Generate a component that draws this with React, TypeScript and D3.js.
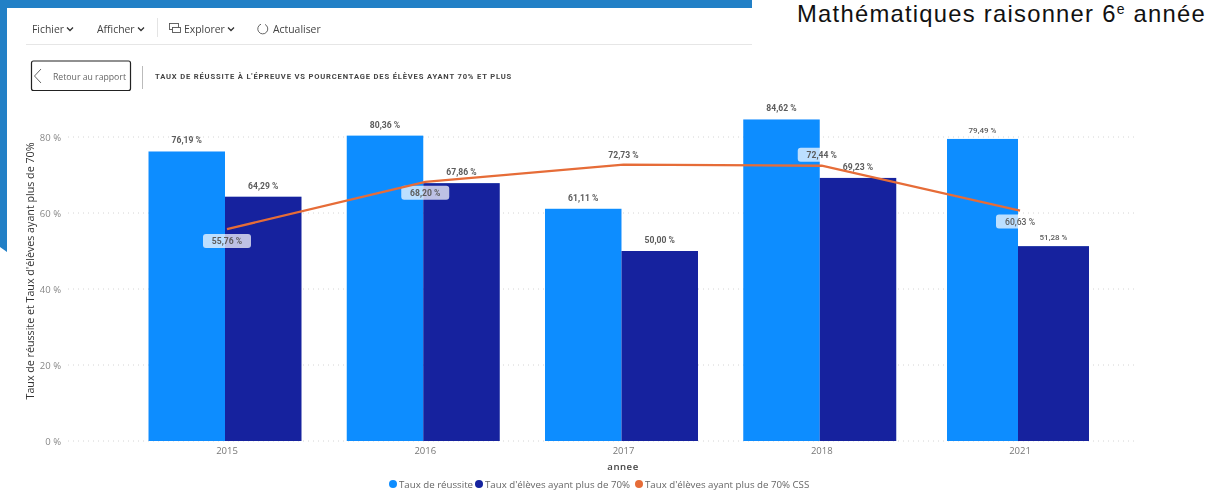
import React from "react";
import * as d3 from "d3";

const years = ["2015", "2016", "2017", "2018", "2021"];
const reussite = [76.19, 80.36, 61.11, 84.62, 79.49];
const plus70 = [64.29, 67.86, 50.0, 69.23, 51.28];
const plus70Css = [55.76, 68.2, 72.73, 72.44, 60.63];
const yTicks = [0, 20, 40, 60, 80];
const legendItems = ["Taux de réussite", "Taux d'élèves ayant plus de 70%", "Taux d'élèves ayant plus de 70% CSS"];

const BLUE = "#118DFF";
const NAVY = "#12239E";
const ORANGE = "#E66C37";
const UI = "'Open Sans', sans-serif";
const DIN = "Roboto, sans-serif";

const x = d3.scalePoint<string>().domain(years).range([225, 1018]);
const y = d3.scaleLinear().domain([0, 80]).range([441, 137]);
const fr = (v: number) => v.toFixed(2).replace(".", ",") + " %";
const halfWidth = (yr: string) => (yr === "2021" ? 71 : 76.5);

const line = d3
  .line<number>()
  .x((_, i) => x(years[i])! + 2)
  .y((d) => y(d));

// label offsets of the line series, relative to each point
const cssLabelDy = [12, 11, -10, -11, 11];
const cssPill = [true, true, false, true, true];

function Chevron({ cx, cy }: { cx: number; cy: number }) {
  return (
    <path d={`M${cx - 3},${cy - 1.5}L${cx},${cy + 1.5}L${cx + 3},${cy - 1.5}`} fill="none" stroke="#333" strokeWidth={1.3} />
  );
}

export default function App() {
  const legendCircles = [393, 479, 639];
  const legendColors = [BLUE, NAVY, ORANGE];
  return (
    <svg width={1219} height={493} style={{ position: "absolute", left: 0, top: 0, display: "block", background: "#fff" }}>
      <defs>
        <filter id="soft" x="0" y="0" width="100%" height="100%" filterUnits="userSpaceOnUse" primitiveUnits="userSpaceOnUse">
          <feGaussianBlur stdDeviation="0.35" />
        </filter>
      </defs>
      <g filter="url(#soft)">
      {/* frame */}
      <path d="M0,0H752V8H7V252L0,247Z" fill="#2380C6" />

      {/* toolbar */}
      <g fontFamily={UI} fontSize={10.4} fill="#444">
        <text x={32} y={33}>Fichier</text>
        <text x={97} y={33}>Afficher</text>
        <text x={184} y={33}>Explorer</text>
        <text x={273} y={33}>Actualiser</text>
      </g>
      <Chevron cx={70} cy={29} />
      <Chevron cx={141} cy={29} />
      <Chevron cx={231} cy={29} />
      <line x1={157.5} x2={157.5} y1={18} y2={37} stroke="#e4e4e4" />
      <rect x={169.5} y={23.5} width={9} height={6} fill="none" stroke="#555" strokeWidth={0.9} />
      <rect x={172.5} y={27.5} width={8} height={5} fill="#fff" stroke="#555" strokeWidth={0.9} />
      <path d="M261,24.2A5,5 0 1 0 265,24.4" fill="none" stroke="#555" strokeWidth={0.9} />
      <line x1={26} x2={752} y1={44.5} y2={44.5} stroke="#e6e6e6" />
      <rect x={31.5} y={61} width={99} height={29.5} rx={2} fill="#fff" stroke="#222" strokeWidth={1.2} />
      <path d="M41,69L34.5,76L41,83" fill="none" stroke="#555" strokeWidth={0.9} />
      <text x={53} y={79.5} fontFamily={UI} fontSize={8.7} fill="#666">Retour au rapport</text>
      <line x1={142.5} x2={142.5} y1={66} y2={89} stroke="#bbb" />
      <text x={155} y={79} fontFamily={DIN} fontWeight={700} fontSize={7.6} letterSpacing={0.83} fill="#444">
        TAUX DE RÉUSSITE À L'ÉPREUVE VS POURCENTAGE DES ÉLÈVES AYANT 70% ET PLUS
      </text>

      {/* grid & y axis */}
      {yTicks.map((t) => (
        <g key={t}>
          <line x1={68} x2={1135} y1={y(t)} y2={y(t)} stroke="#d4d4d4" strokeDasharray="1 4" />
          <text x={61} y={y(t) + 3.5} textAnchor="end" fontFamily={UI} fontSize={9.5} fill="#888">
            {t} %
          </text>
        </g>
      ))}
      <text
        transform="translate(34,271) rotate(-90)"
        textAnchor="middle"
        fontFamily={UI}
        fontSize={10.7}
        fill="#333"
      >
        Taux de réussite et Taux d'élèves ayant plus de 70%
      </text>

      {/* bars */}
      {years.map((yr, i) => {
        const c = x(yr)!;
        const w = halfWidth(yr);
        const small = yr === "2021";
        const gap = small ? 6 : 8;
        return (
          <g key={yr}>
            <rect x={c - w} y={y(reussite[i])} width={w} height={y(0) - y(reussite[i])} fill={BLUE} />
            <rect x={c} y={y(plus70[i])} width={w} height={y(0) - y(plus70[i])} fill={NAVY} />
            <text x={c + 2} y={454} textAnchor="middle" fontFamily={UI} fontSize={9.5} fill="#777">{yr}</text>
            <text
              x={c - w / 2}
              y={y(reussite[i]) - gap}
              textAnchor="middle"
              fontFamily={DIN}
              fontWeight={small ? 500 : 700}
              fontSize={small ? 8 : 8.6}
              fill="#5c5c5c"
            >
              {fr(reussite[i])}
            </text>
            <text
              x={c + w / 2}
              y={y(plus70[i]) - gap}
              textAnchor="middle"
              fontFamily={DIN}
              fontWeight={small ? 500 : 700}
              fontSize={small ? 8 : 8.6}
              fill="#5c5c5c"
            >
              {fr(plus70[i])}
            </text>
          </g>
        );
      })}

      {/* line labels pills */}
      {years.map((yr, i) =>
        cssPill[i] ? (
          <rect
            key={yr}
            x={x(yr)! + 2 - 24}
            y={y(plus70Css[i]) + cssLabelDy[i] - 7}
            width={48}
            height={14}
            rx={3}
            fill="#fff"
            fillOpacity={0.72}
          />
        ) : null
      )}

      {/* line */}
      <path d={line(plus70Css)!} fill="none" stroke={ORANGE} strokeWidth={2.3} />

      {years.map((yr, i) => (
        <text
          key={yr}
          x={x(yr)! + 2}
          y={y(plus70Css[i]) + cssLabelDy[i] + 3}
          textAnchor="middle"
          fontFamily={DIN}
          fontWeight={yr === "2021" ? 500 : 700}
          fontSize={8.6}
          fill="#5c5c5c"
        >
          {fr(plus70Css[i])}
        </text>
      ))}

      {/* x axis title */}
      <text x={623} y={470} textAnchor="middle" fontFamily={UI} fontWeight={600} fontSize={9.6} letterSpacing={0.5} fill="#444">annee</text>

      {/* legend */}
      {legendItems.map((s, i) => (
        <g key={s}>
          <circle cx={legendCircles[i]} cy={484} r={4} fill={legendColors[i]} />
          <text x={legendCircles[i] + 6} y={487.5} fontFamily={UI} fontSize={9.7} fill="#666">{s}</text>
        </g>
      ))}
      </g>

      {/* title */}
      <text x={797} y={22} fontFamily="'Liberation Sans', sans-serif" fontSize={23.8} letterSpacing={1.25} fill="#111">
        Mathématiques raisonner 6<tspan dy={-8} fontSize={14}>e</tspan>
        <tspan dy={8}> année</tspan>
      </text>
    </svg>
  );
}
